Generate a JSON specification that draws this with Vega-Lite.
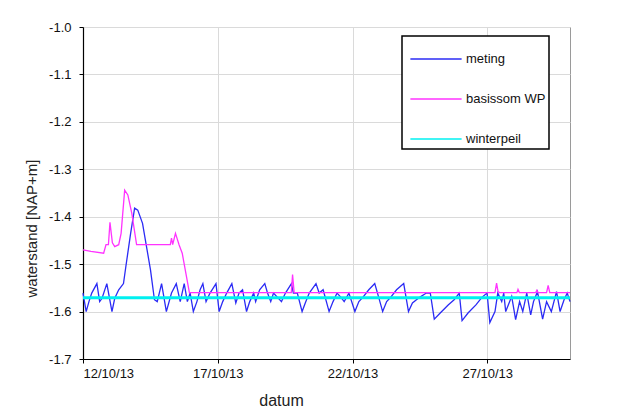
{
  "$schema": "https://vega.github.io/schema/vega-lite/v6.json",
  "autosize": {"type": "none"},
  "padding": {"left": 83, "top": 27, "right": 52, "bottom": 52},
  "width": 487,
  "height": 332,
  "background": "white",
  "config": {
    "font": "Liberation Sans",
    "view": {"stroke": "#9a9a9a", "strokeWidth": 1},
    "axis": {
      "labelFont": "Liberation Sans",
      "titleFont": "Liberation Sans",
      "labelColor": "#111",
      "titleColor": "#222",
      "titleFontWeight": "normal",
      "gridColor": "#dadada",
      "gridWidth": 1,
      "domainColor": "#000",
      "domainWidth": 1.2,
      "tickColor": "#000",
      "tickSize": 4
    }
  },
  "data": {
    "values": [
      {"t": "2013-10-12T00:00", "v": -1.561, "serie": "meting"},
      {"t": "2013-10-12T02:50", "v": -1.600, "serie": "meting"},
      {"t": "2013-10-12T05:18", "v": -1.579, "serie": "meting"},
      {"t": "2013-10-12T07:47", "v": -1.561, "serie": "meting"},
      {"t": "2013-10-12T12:22", "v": -1.541, "serie": "meting"},
      {"t": "2013-10-12T14:51", "v": -1.579, "serie": "meting"},
      {"t": "2013-10-12T16:58", "v": -1.572, "serie": "meting"},
      {"t": "2013-10-12T21:13", "v": -1.541, "serie": "meting"},
      {"t": "2013-10-13T01:48", "v": -1.600, "serie": "meting"},
      {"t": "2013-10-13T04:16", "v": -1.572, "serie": "meting"},
      {"t": "2013-10-13T07:48", "v": -1.554, "serie": "meting"},
      {"t": "2013-10-13T12:03", "v": -1.541, "serie": "meting"},
      {"t": "2013-10-13T14:10", "v": -1.505, "serie": "meting"},
      {"t": "2013-10-13T18:25", "v": -1.435, "serie": "meting"},
      {"t": "2013-10-13T21:58", "v": -1.382, "serie": "meting"},
      {"t": "2013-10-14T00:46", "v": -1.386, "serie": "meting"},
      {"t": "2013-10-14T05:01", "v": -1.414, "serie": "meting"},
      {"t": "2013-10-14T08:33", "v": -1.463, "serie": "meting"},
      {"t": "2013-10-14T12:06", "v": -1.512, "serie": "meting"},
      {"t": "2013-10-14T15:37", "v": -1.575, "serie": "meting"},
      {"t": "2013-10-14T18:06", "v": -1.579, "serie": "meting"},
      {"t": "2013-10-14T21:59", "v": -1.541, "serie": "meting"},
      {"t": "2013-10-15T02:14", "v": -1.600, "serie": "meting"},
      {"t": "2013-10-15T06:49", "v": -1.561, "serie": "meting"},
      {"t": "2013-10-15T11:04", "v": -1.541, "serie": "meting"},
      {"t": "2013-10-15T14:35", "v": -1.579, "serie": "meting"},
      {"t": "2013-10-15T18:07", "v": -1.541, "serie": "meting"},
      {"t": "2013-10-15T20:57", "v": -1.579, "serie": "meting"},
      {"t": "2013-10-15T23:25", "v": -1.561, "serie": "meting"},
      {"t": "2013-10-16T02:15", "v": -1.600, "serie": "meting"},
      {"t": "2013-10-16T05:27", "v": -1.579, "serie": "meting"},
      {"t": "2013-10-16T08:17", "v": -1.554, "serie": "meting"},
      {"t": "2013-10-16T10:45", "v": -1.541, "serie": "meting"},
      {"t": "2013-10-16T13:35", "v": -1.579, "serie": "meting"},
      {"t": "2013-10-16T17:07", "v": -1.561, "serie": "meting"},
      {"t": "2013-10-16T22:25", "v": -1.541, "serie": "meting"},
      {"t": "2013-10-17T01:15", "v": -1.600, "serie": "meting"},
      {"t": "2013-10-17T04:25", "v": -1.579, "serie": "meting"},
      {"t": "2013-10-17T07:57", "v": -1.561, "serie": "meting"},
      {"t": "2013-10-17T12:33", "v": -1.541, "serie": "meting"},
      {"t": "2013-10-17T16:05", "v": -1.582, "serie": "meting"},
      {"t": "2013-10-17T18:55", "v": -1.561, "serie": "meting"},
      {"t": "2013-10-17T22:05", "v": -1.554, "serie": "meting"},
      {"t": "2013-10-18T01:38", "v": -1.600, "serie": "meting"},
      {"t": "2013-10-18T04:28", "v": -1.579, "serie": "meting"},
      {"t": "2013-10-18T08:00", "v": -1.561, "serie": "meting"},
      {"t": "2013-10-18T09:45", "v": -1.579, "serie": "meting"},
      {"t": "2013-10-18T13:18", "v": -1.554, "serie": "meting"},
      {"t": "2013-10-18T17:53", "v": -1.541, "serie": "meting"},
      {"t": "2013-10-18T20:21", "v": -1.561, "serie": "meting"},
      {"t": "2013-10-18T23:11", "v": -1.579, "serie": "meting"},
      {"t": "2013-10-19T01:39", "v": -1.561, "serie": "meting"},
      {"t": "2013-10-19T05:11", "v": -1.570, "serie": "meting"},
      {"t": "2013-10-19T08:44", "v": -1.579, "serie": "meting"},
      {"t": "2013-10-19T12:16", "v": -1.561, "serie": "meting"},
      {"t": "2013-10-19T17:34", "v": -1.541, "serie": "meting"},
      {"t": "2013-10-19T19:21", "v": -1.561, "serie": "meting"},
      {"t": "2013-10-19T22:52", "v": -1.561, "serie": "meting"},
      {"t": "2013-10-20T03:07", "v": -1.600, "serie": "meting"},
      {"t": "2013-10-20T05:56", "v": -1.582, "serie": "meting"},
      {"t": "2013-10-20T09:29", "v": -1.561, "serie": "meting"},
      {"t": "2013-10-20T15:29", "v": -1.541, "serie": "meting"},
      {"t": "2013-10-20T18:19", "v": -1.561, "serie": "meting"},
      {"t": "2013-10-20T21:50", "v": -1.554, "serie": "meting"},
      {"t": "2013-10-21T03:09", "v": -1.600, "serie": "meting"},
      {"t": "2013-10-21T06:40", "v": -1.579, "serie": "meting"},
      {"t": "2013-10-21T10:13", "v": -1.561, "serie": "meting"},
      {"t": "2013-10-21T13:45", "v": -1.570, "serie": "meting"},
      {"t": "2013-10-21T16:35", "v": -1.579, "serie": "meting"},
      {"t": "2013-10-21T20:48", "v": -1.561, "serie": "meting"},
      {"t": "2013-10-22T02:07", "v": -1.600, "serie": "meting"},
      {"t": "2013-10-22T05:40", "v": -1.579, "serie": "meting"},
      {"t": "2013-10-22T09:11", "v": -1.570, "serie": "meting"},
      {"t": "2013-10-22T14:30", "v": -1.554, "serie": "meting"},
      {"t": "2013-10-22T19:48", "v": -1.541, "serie": "meting"},
      {"t": "2013-10-22T23:20", "v": -1.570, "serie": "meting"},
      {"t": "2013-10-23T02:51", "v": -1.600, "serie": "meting"},
      {"t": "2013-10-23T06:24", "v": -1.579, "serie": "meting"},
      {"t": "2013-10-23T09:56", "v": -1.570, "serie": "meting"},
      {"t": "2013-10-23T15:14", "v": -1.554, "serie": "meting"},
      {"t": "2013-10-23T21:36", "v": -1.541, "serie": "meting"},
      {"t": "2013-10-24T01:51", "v": -1.600, "serie": "meting"},
      {"t": "2013-10-24T05:22", "v": -1.582, "serie": "meting"},
      {"t": "2013-10-24T11:44", "v": -1.570, "serie": "meting"},
      {"t": "2013-10-24T17:44", "v": -1.561, "serie": "meting"},
      {"t": "2013-10-24T21:17", "v": -1.561, "serie": "meting"},
      {"t": "2013-10-25T00:49", "v": -1.616, "serie": "meting"},
      {"t": "2013-10-25T06:07", "v": -1.603, "serie": "meting"},
      {"t": "2013-10-25T13:12", "v": -1.586, "serie": "meting"},
      {"t": "2013-10-25T18:29", "v": -1.575, "serie": "meting"},
      {"t": "2013-10-25T23:05", "v": -1.561, "serie": "meting"},
      {"t": "2013-10-26T01:34", "v": -1.619, "serie": "meting"},
      {"t": "2013-10-26T06:52", "v": -1.603, "serie": "meting"},
      {"t": "2013-10-26T13:55", "v": -1.586, "serie": "meting"},
      {"t": "2013-10-26T19:13", "v": -1.570, "serie": "meting"},
      {"t": "2013-10-26T23:50", "v": -1.561, "serie": "meting"},
      {"t": "2013-10-27T02:18", "v": -1.623, "serie": "meting"},
      {"t": "2013-10-27T06:53", "v": -1.600, "serie": "meting"},
      {"t": "2013-10-27T09:22", "v": -1.561, "serie": "meting"},
      {"t": "2013-10-27T12:53", "v": -1.579, "serie": "meting"},
      {"t": "2013-10-27T14:40", "v": -1.561, "serie": "meting"},
      {"t": "2013-10-27T16:26", "v": -1.600, "serie": "meting"},
      {"t": "2013-10-27T19:58", "v": -1.579, "serie": "meting"},
      {"t": "2013-10-27T21:45", "v": -1.568, "serie": "meting"},
      {"t": "2013-10-28T01:16", "v": -1.617, "serie": "meting"},
      {"t": "2013-10-28T04:48", "v": -1.579, "serie": "meting"},
      {"t": "2013-10-28T07:38", "v": -1.600, "serie": "meting"},
      {"t": "2013-10-28T11:10", "v": -1.561, "serie": "meting"},
      {"t": "2013-10-28T14:41", "v": -1.607, "serie": "meting"},
      {"t": "2013-10-28T17:11", "v": -1.579, "serie": "meting"},
      {"t": "2013-10-28T20:43", "v": -1.558, "serie": "meting"},
      {"t": "2013-10-29T01:18", "v": -1.616, "serie": "meting"},
      {"t": "2013-10-29T04:49", "v": -1.579, "serie": "meting"},
      {"t": "2013-10-29T09:04", "v": -1.600, "serie": "meting"},
      {"t": "2013-10-29T13:41", "v": -1.558, "serie": "meting"},
      {"t": "2013-10-29T16:51", "v": -1.600, "serie": "meting"},
      {"t": "2013-10-29T20:24", "v": -1.575, "serie": "meting"},
      {"t": "2013-10-29T23:13", "v": -1.561, "serie": "meting"},
      {"t": "2013-10-30T01:41", "v": -1.579, "serie": "meting"},

      {"t": "2013-10-12T00:00", "v": -1.470, "serie": "basissom WP"},
      {"t": "2013-10-12T07:05", "v": -1.473, "serie": "basissom WP"},
      {"t": "2013-10-12T18:23", "v": -1.477, "serie": "basissom WP"},
      {"t": "2013-10-12T20:30", "v": -1.459, "serie": "basissom WP"},
      {"t": "2013-10-12T22:38", "v": -1.459, "serie": "basissom WP"},
      {"t": "2013-10-13T00:01", "v": -1.412, "serie": "basissom WP"},
      {"t": "2013-10-13T02:10", "v": -1.455, "serie": "basissom WP"},
      {"t": "2013-10-13T04:16", "v": -1.463, "serie": "basissom WP"},
      {"t": "2013-10-13T07:48", "v": -1.459, "serie": "basissom WP"},
      {"t": "2013-10-13T09:56", "v": -1.435, "serie": "basissom WP"},
      {"t": "2013-10-13T13:06", "v": -1.344, "serie": "basissom WP"},
      {"t": "2013-10-13T15:56", "v": -1.354, "serie": "basissom WP"},
      {"t": "2013-10-13T19:28", "v": -1.393, "serie": "basissom WP"},
      {"t": "2013-10-13T23:43", "v": -1.459, "serie": "basissom WP"},
      {"t": "2013-10-15T05:46", "v": -1.459, "serie": "basissom WP"},
      {"t": "2013-10-15T06:49", "v": -1.445, "serie": "basissom WP"},
      {"t": "2013-10-15T07:52", "v": -1.459, "serie": "basissom WP"},
      {"t": "2013-10-15T10:21", "v": -1.435, "serie": "basissom WP"},
      {"t": "2013-10-15T13:32", "v": -1.459, "serie": "basissom WP"},
      {"t": "2013-10-15T16:22", "v": -1.477, "serie": "basissom WP"},
      {"t": "2013-10-15T22:44", "v": -1.560, "serie": "basissom WP"},
      {"t": "2013-10-19T17:31", "v": -1.560, "serie": "basissom WP"},
      {"t": "2013-10-19T18:37", "v": -1.522, "serie": "basissom WP"},
      {"t": "2013-10-19T20:02", "v": -1.560, "serie": "basissom WP"},
      {"t": "2013-10-27T06:53", "v": -1.560, "serie": "basissom WP"},
      {"t": "2013-10-27T08:18", "v": -1.540, "serie": "basissom WP"},
      {"t": "2013-10-27T09:36", "v": -1.558, "serie": "basissom WP"},
      {"t": "2013-10-27T10:48", "v": -1.560, "serie": "basissom WP"},
      {"t": "2013-10-28T02:24", "v": -1.560, "serie": "basissom WP"},
      {"t": "2013-10-28T03:22", "v": -1.553, "serie": "basissom WP"},
      {"t": "2013-10-28T04:34", "v": -1.560, "serie": "basissom WP"},
      {"t": "2013-10-28T19:12", "v": -1.560, "serie": "basissom WP"},
      {"t": "2013-10-28T20:10", "v": -1.555, "serie": "basissom WP"},
      {"t": "2013-10-28T21:07", "v": -1.560, "serie": "basissom WP"},
      {"t": "2013-10-29T04:48", "v": -1.560, "serie": "basissom WP"},
      {"t": "2013-10-29T06:14", "v": -1.545, "serie": "basissom WP"},
      {"t": "2013-10-29T07:41", "v": -1.560, "serie": "basissom WP"},
      {"t": "2013-10-30T01:41", "v": -1.560, "serie": "basissom WP"},

      {"t": "2013-10-12T00:00", "v": -1.571, "serie": "winterpeil"},
      {"t": "2013-10-30T01:41", "v": -1.571, "serie": "winterpeil"}
    ]
  },
  "encoding": {
    "x": {
      "field": "t",
      "type": "temporal",
      "scale": {"domain": ["2013-10-12T00:00", "2013-10-30T01:41"]},
      "axis": {
        "values": ["2013-10-12T00:00", "2013-10-17T00:00", "2013-10-22T00:00", "2013-10-27T00:00"],
        "format": "%d/%m/%y",
        "labelFontSize": 13,
        "labelPadding": 4,
        "title": "datum",
        "titleFontSize": 16,
        "titleX": 198,
        "titleY": 33,
        "titleAnchor": "middle"
      }
    },
    "y": {
      "field": "v",
      "type": "quantitative",
      "scale": {"domain": [-1.7, -1.0], "nice": false, "zero": false},
      "axis": {
        "values": [-1.7, -1.6, -1.5, -1.4, -1.3, -1.2, -1.1, -1.0],
        "format": ".1f",
        "labelExpr": "replace(datum.label, '\u2212', '-')",
        "labelFontSize": 13,
        "labelPadding": 8,
        "title": "waterstand [NAP+m]",
        "titleFontSize": 15,
        "titleX": -44,
        "titleY": 201,
        "titleAnchor": "middle"
      }
    },
    "color": {
      "field": "serie",
      "type": "nominal",
      "scale": {
        "domain": ["meting", "basissom WP", "winterpeil"],
        "range": ["#2b2bf5", "#ff33ff", "#00f0f0"]
      },
      "legend": {
        "title": null,
        "orient": "none",
        "legendX": 319,
        "legendY": 9,
        "direction": "vertical",
        "symbolType": "M-1.35,0H1.35",
        "symbolSize": 1440,
        "symbolStrokeWidth": 1.5,
        "symbolOffset": 11,
        "labelOffset": 10,
        "labelFontSize": 13,
        "labelColor": "#111",
        "labelFont": "Liberation Sans",
        "rowPadding": 13,
        "padding": 3,
        "strokeColor": "#000",
        "fillColor": "white",
        "encode": {
          "legend": {"update": {"strokeWidth": {"value": 1.5}}}
        }
      }
    }
  },
  "layer": [
    {
      "transform": [{"filter": "datum.serie === 'meting'"}],
      "mark": {"type": "line", "strokeWidth": 1.3, "interpolate": "linear"}
    },
    {
      "transform": [{"filter": "datum.serie === 'basissom WP'"}],
      "mark": {"type": "line", "strokeWidth": 1.3}
    },
    {
      "transform": [{"filter": "datum.serie === 'winterpeil'"}],
      "mark": {"type": "line", "strokeWidth": 3}
    }
  ]
}
